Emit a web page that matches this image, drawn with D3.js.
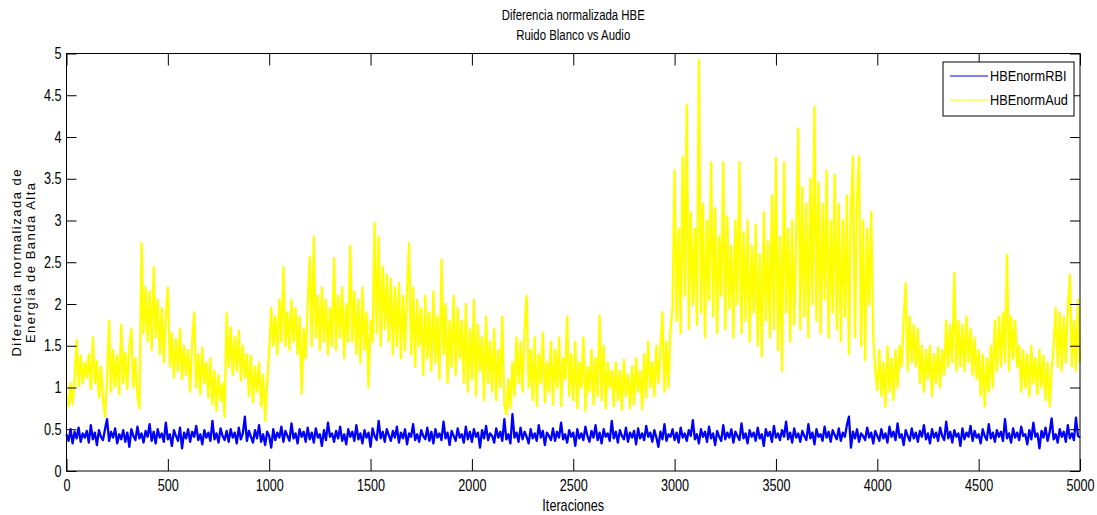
<!DOCTYPE html>
<html>
<head>
<meta charset="utf-8">
<script src="https://cdn.jsdelivr.net/npm/d3@7"></script>
<style>
  html, body { margin: 0; padding: 0; background: #fff; }
  svg { display: block; }
  text { font-family: "Liberation Sans", Arial, Helvetica, sans-serif; fill: #000; }
</style>
</head>
<body>
<svg id="chart" width="1097" height="515"></svg>
<script>
// ==================
// Data (one value every 10 iterations)
// ==================
const STEP = 10;

const hbeNormRBI = [
  0.44,0.36,0.50,0.33,0.47,0.39,0.52,0.35,0.45,0.40,0.48,0.34,0.55,0.38,0.46,0.31,0.49,0.41,0.37,0.50,
  0.62,0.36,0.47,0.40,0.51,0.33,0.44,0.38,0.49,0.35,0.46,0.29,0.50,0.42,0.37,0.53,0.39,0.45,0.34,0.48,
  0.41,0.56,0.36,0.47,0.33,0.50,0.40,0.45,0.35,0.58,0.38,0.44,0.30,0.49,0.42,0.36,0.52,0.27,0.46,0.39,
  0.50,0.35,0.47,0.41,0.54,0.37,0.44,0.32,0.49,0.40,0.46,0.36,0.60,0.38,0.45,0.34,0.51,0.42,0.37,0.48,
  0.35,0.50,0.40,0.46,0.33,0.52,0.38,0.45,0.65,0.36,0.48,0.41,0.34,0.49,0.39,0.55,0.35,0.44,0.31,0.47,
  0.42,0.28,0.50,0.37,0.46,0.40,0.53,0.35,0.48,0.42,0.36,0.57,0.39,0.45,0.33,0.50,0.41,0.47,0.35,0.52,
  0.38,0.46,0.34,0.51,0.40,0.44,0.30,0.49,0.37,0.58,0.41,0.45,0.35,0.48,0.39,0.53,0.36,0.44,0.32,0.50,
  0.41,0.47,0.36,0.55,0.38,0.45,0.33,0.49,0.40,0.46,0.29,0.51,0.42,0.37,0.60,0.39,0.47,0.35,0.50,0.43,
  0.36,0.48,0.40,0.53,0.34,0.46,0.39,0.50,0.32,0.45,0.41,0.56,0.37,0.44,0.35,0.49,0.42,0.38,0.52,0.36,
  0.47,0.33,0.50,0.40,0.45,0.37,0.59,0.39,0.46,0.31,0.48,0.42,0.36,0.51,0.40,0.44,0.34,0.53,0.38,0.47,
  0.35,0.50,0.41,0.46,0.28,0.49,0.39,0.54,0.37,0.45,0.42,0.34,0.51,0.40,0.47,0.36,0.62,0.38,0.44,0.33,
  0.68,0.40,0.46,0.35,0.52,0.38,0.47,0.41,0.33,0.50,0.39,0.45,0.36,0.55,0.40,0.48,0.31,0.46,0.42,0.37,
  0.51,0.36,0.47,0.40,0.58,0.38,0.44,0.34,0.49,0.41,0.46,0.30,0.50,0.39,0.45,0.37,0.53,0.42,0.35,0.48,
  0.40,0.55,0.37,0.46,0.33,0.50,0.41,0.45,0.36,0.60,0.39,0.47,0.34,0.49,0.42,0.38,0.52,0.35,0.46,0.40,
  0.48,0.32,0.51,0.39,0.45,0.37,0.54,0.41,0.46,0.35,0.49,0.40,0.29,0.47,0.38,0.56,0.36,0.44,0.41,0.50,
  0.37,0.46,0.34,0.52,0.40,0.45,0.36,0.49,0.42,0.61,0.38,0.44,0.33,0.50,0.41,0.47,0.35,0.53,0.39,0.45,
  0.31,0.48,0.41,0.36,0.55,0.38,0.46,0.40,0.50,0.34,0.47,0.42,0.37,0.57,0.39,0.45,0.33,0.49,0.41,0.46,
  0.36,0.52,0.39,0.44,0.30,0.50,0.42,0.47,0.35,0.54,0.40,0.45,0.37,0.49,0.41,0.59,0.38,0.46,0.34,0.51,
  0.40,0.45,0.35,0.48,0.42,0.37,0.56,0.39,0.46,0.32,0.50,0.41,0.44,0.36,0.53,0.40,0.47,0.35,0.49,0.43,
  0.38,0.51,0.36,0.46,0.41,0.55,0.65,0.28,0.47,0.39,0.50,0.35,0.45,0.42,0.37,0.52,0.40,0.46,0.33,0.48,
  0.42,0.36,0.50,0.39,0.45,0.34,0.53,0.41,0.47,0.37,0.57,0.40,0.44,0.31,0.49,0.42,0.36,0.51,0.39,0.46,
  0.35,0.48,0.41,0.55,0.38,0.45,0.33,0.50,0.40,0.46,0.36,0.52,0.42,0.37,0.59,0.39,0.47,0.34,0.49,0.41,
  0.45,0.30,0.51,0.38,0.46,0.41,0.54,0.36,0.48,0.40,0.44,0.33,0.50,0.42,0.37,0.56,0.39,0.46,0.35,0.49,
  0.41,0.47,0.36,0.62,0.39,0.45,0.34,0.51,0.40,0.46,0.37,0.53,0.42,0.44,0.32,0.49,0.38,0.58,0.41,0.45,
  0.27,0.48,0.40,0.52,0.36,0.46,0.63,0.38,0.44,0.34,0.50,0.41,0.47,0.35,0.55,0.39,0.45,0.37,0.64,0.42,
  0.40
];

const hbeNormAud = [
  0.92,0.78,1.05,0.80,1.10,1.57,1.02,1.38,1.05,1.30,
  1.12,1.40,0.98,1.60,1.05,1.32,0.88,1.25,0.85,0.65,
  1.10,1.80,0.95,1.45,1.02,1.38,0.92,1.75,1.05,1.42,
  0.98,1.48,1.70,1.00,1.35,0.90,0.75,2.73,1.65,2.20,
  1.55,2.15,1.45,2.44,1.60,2.05,1.40,1.95,1.30,1.85,
  2.20,1.25,1.65,1.12,1.58,1.20,1.70,1.10,1.50,1.15,
  1.45,0.95,1.55,1.90,1.00,1.40,0.92,1.48,1.05,1.30,
  0.88,1.35,0.80,1.20,0.72,1.15,0.85,1.05,0.65,1.89,
  1.25,1.72,1.15,1.60,1.20,1.68,1.08,1.50,1.12,1.40,
  0.90,1.38,0.82,1.25,0.95,1.30,0.78,1.15,0.60,1.05,
  1.45,1.95,1.50,1.85,1.40,2.05,1.55,2.44,1.50,1.90,
  1.45,2.05,1.55,1.95,1.40,1.85,0.93,1.70,1.35,2.00,
  2.56,1.50,2.80,1.60,2.10,1.45,2.20,1.55,2.05,1.40,
  1.95,1.50,2.55,1.45,2.10,1.60,2.20,1.35,2.00,1.55,
  2.70,1.55,2.15,1.40,2.05,1.30,2.20,1.45,1.90,1.00,
  1.80,1.55,2.97,1.65,2.80,1.50,2.45,1.70,2.35,1.55,
  2.30,1.40,2.20,1.50,2.25,1.35,2.10,1.45,2.15,2.73,
  1.40,2.20,1.25,2.05,1.50,1.95,1.15,2.10,1.35,1.90,
  1.20,2.15,1.30,1.85,1.10,2.53,1.40,2.00,1.05,1.80,
  1.25,2.10,1.15,1.95,1.35,1.80,1.05,2.00,0.95,1.70,
  1.10,2.05,0.90,1.75,1.20,1.60,0.85,1.85,1.05,1.55,
  0.95,1.70,0.85,1.45,1.00,1.85,0.80,0.68,1.10,0.75,
  1.30,0.90,1.60,1.05,1.55,0.95,1.70,2.10,1.00,1.45,
  0.85,1.60,0.78,1.40,1.05,1.65,0.82,1.30,0.95,1.55,
  0.80,1.45,1.00,1.60,0.78,1.35,1.10,1.85,0.90,1.40,
  0.85,1.55,0.75,1.30,1.00,1.60,0.72,1.25,0.95,1.45,
  0.80,1.35,0.90,1.86,0.85,1.50,0.75,1.30,1.00,1.20,
  0.78,1.30,0.85,1.20,0.73,1.33,0.90,1.15,0.75,1.25,
  0.80,1.35,0.95,1.20,0.74,1.40,0.88,1.55,1.00,1.30,
  0.90,1.50,1.05,1.45,1.90,0.95,1.55,1.00,1.70,1.97,
  3.60,1.80,2.90,1.65,3.76,2.10,4.38,1.70,3.10,2.00,
  2.90,1.75,4.92,1.90,3.20,1.60,3.00,2.05,3.70,1.85,
  3.15,1.65,2.80,2.10,3.70,1.70,3.05,1.95,2.70,1.60,
  3.00,2.00,3.70,1.65,2.85,1.80,3.00,1.55,2.70,1.90,
  2.95,1.50,2.60,1.37,3.10,1.80,2.75,1.60,3.30,1.70,
  3.75,1.45,2.80,1.20,3.70,1.90,2.90,1.55,3.00,1.75,
  2.85,4.10,1.70,3.40,1.85,3.20,1.60,3.50,2.00,4.36,
  1.80,3.45,1.65,3.20,2.05,3.60,1.60,3.00,1.90,3.55,
  1.70,3.20,1.55,3.00,1.85,3.30,1.40,3.10,3.77,1.60,
  3.25,3.77,1.50,3.00,1.33,2.90,2.00,3.10,1.60,1.20,
  0.97,1.45,0.90,1.30,0.77,1.49,0.95,1.35,0.85,1.45,
  1.00,1.50,1.25,1.80,2.25,1.20,1.85,1.30,1.75,1.25,
  1.70,1.05,1.50,0.95,1.45,1.10,1.50,0.90,1.40,1.05,
  1.48,1.00,1.45,1.15,1.80,1.25,1.75,1.30,2.37,1.20,
  1.80,1.25,1.75,1.20,1.85,1.30,1.70,1.15,1.60,1.10,
  1.45,0.90,1.40,0.77,1.35,0.95,1.50,1.00,1.80,1.20,
  1.85,1.25,1.90,1.30,2.59,1.20,1.85,1.35,1.80,1.25,
  1.50,0.95,1.45,1.00,1.40,0.90,1.50,1.05,1.35,0.92,
  1.45,1.00,1.38,0.85,1.30,0.77,1.20,1.50,1.95,1.25,
  1.90,1.20,1.85,1.30,1.95,2.35,1.25,1.80,1.20,2.05,
  1.30
];

const xTicks = [0, 500, 1000, 1500, 2000, 2500, 3000, 3500, 4000, 4500, 5000];
const yTicks = [0, 0.5, 1, 1.5, 2, 2.5, 3, 3.5, 4, 4.5, 5];
const seriesNames = ['HBEnormRBI', 'HBEnormAud'];
const seriesColors = ['#0000ff', '#ffff00'];
const titleLines = ['Diferencia normalizada HBE', 'Ruido Blanco vs Audio'];
const yLabelLines = ['Diferencia normalizada de', 'Energía de Banda Alta'];
const xLabel = 'Iteraciones';

// ==================
// Layout
// ==================
const PLOT_LEFT = 66.5;
const PLOT_RIGHT = 1080;
const PLOT_TOP = 53.5;
const PLOT_BOTTOM = 471;
const X_TICK_LEN = 12;
const Y_TICK_LEN = 10;
const NARROW = 0.79; // the picture uses a condensed Helvetica

const svg = d3.select('#chart');

const xScale = d3.scaleLinear().domain([0, 5000]).range([PLOT_LEFT, PLOT_RIGHT]);
const yScale = d3.scaleLinear().domain([0, 5]).range([PLOT_BOTTOM, PLOT_TOP]);

const toPoints = (values) => values.map((v, i) => ({ it: i * STEP, v: v }));

const line = d3.line()
  .x(d => xScale(d.it))
  .y(d => yScale(d.v));

// squeeze a text horizontally around its own anchor
const condense = (sel, k) => sel.each(function () {
  const t = d3.select(this);
  const x = +t.attr('x') || 0;
  const y = +t.attr('y') || 0;
  t.attr('x', 0).attr('y', 0).attr('transform', `translate(${x},${y}) scale(${k},1)`);
});

// series, blue first so the yellow one sits on top
const seriesData = [hbeNormRBI, hbeNormAud];
svg.append('g')
  .selectAll('path')
  .data(seriesData)
  .join('path')
  .attr('d', d => line(toPoints(d)))
  .attr('fill', 'none')
  .attr('stroke', (d, i) => seriesColors[i])
  .attr('stroke-width', 2.3)
  .attr('stroke-linejoin', 'round');

// ==================
// Axes (MATLAB style box with inward ticks)
// ==================
const xAxisBottom = d3.axisBottom(xScale).tickValues(xTicks).tickSize(-X_TICK_LEN).tickPadding(9).tickFormat(d3.format('d'));
const xAxisTop = d3.axisTop(xScale).tickValues(xTicks).tickSize(-X_TICK_LEN).tickFormat('');
const yAxisLeft = d3.axisLeft(yScale).tickValues(yTicks).tickSize(-Y_TICK_LEN).tickPadding(5).tickFormat(d3.format('~g'));
const yAxisRight = d3.axisRight(yScale).tickValues(yTicks).tickSize(-Y_TICK_LEN).tickFormat('');

const styleAxis = (g) => {
  g.select('.domain').remove();
  g.selectAll('.tick line').attr('stroke', '#000').attr('stroke-width', 1);
  g.selectAll('.tick text').attr('font-size', 16).attr('fill', '#000')
    .attr('font-family', '"Liberation Sans", Arial, sans-serif')
    .call(condense, NARROW);
};

svg.append('g').attr('transform', `translate(0,${PLOT_BOTTOM})`).call(xAxisBottom).call(styleAxis);
svg.append('g').attr('transform', `translate(0,${PLOT_TOP})`).call(xAxisTop).call(styleAxis);
svg.append('g').attr('transform', `translate(${PLOT_LEFT},0)`).call(yAxisLeft).call(styleAxis);
svg.append('g').attr('transform', `translate(${PLOT_RIGHT},0)`).call(yAxisRight).call(styleAxis);

svg.append('rect')
  .attr('x', PLOT_LEFT)
  .attr('y', PLOT_TOP)
  .attr('width', PLOT_RIGHT - PLOT_LEFT)
  .attr('height', PLOT_BOTTOM - PLOT_TOP)
  .attr('fill', 'none')
  .attr('stroke', '#000')
  .attr('stroke-width', 1);

// ==================
// Titles and labels
// ==================
const titleX = (PLOT_LEFT + PLOT_RIGHT) / 2;
svg.append('g')
  .selectAll('text')
  .data(titleLines)
  .join('text')
  .attr('x', titleX)
  .attr('y', (d, i) => 20 + i * 19.5)
  .attr('text-anchor', 'middle')
  .attr('font-size', 15)
  .text(d => d)
  .call(condense, 0.76);

svg.append('text')
  .attr('x', titleX)
  .attr('y', 511)
  .attr('text-anchor', 'middle')
  .attr('font-size', 16)
  .text(xLabel)
  .call(condense, NARROW);

const yLabelCenter = (PLOT_TOP + PLOT_BOTTOM) / 2;
svg.append('text')
  .attr('transform', `translate(21,${yLabelCenter}) rotate(-90)`)
  .attr('text-anchor', 'middle')
  .attr('font-size', 13)
  .attr('letter-spacing', 1.5)
  .selectAll('tspan')
  .data(yLabelLines)
  .join('tspan')
  .attr('x', 0)
  .attr('dy', (d, i) => i === 0 ? 0 : 14)
  .text(d => d);

// ==================
// Legend
// ==================
const legend = svg.append('g').attr('transform', 'translate(943,62)');
legend.append('rect')
  .attr('width', 131)
  .attr('height', 54)
  .attr('fill', '#fff')
  .attr('stroke', '#000')
  .attr('stroke-width', 1);

const legendItems = legend.selectAll('g.item')
  .data(seriesNames)
  .join('g')
  .attr('class', 'item')
  .attr('transform', (d, i) => `translate(0,${14 + i * 24})`);

legendItems.append('line')
  .attr('x1', 7)
  .attr('x2', 45)
  .attr('stroke', (d, i) => seriesColors[i])
  .attr('stroke-width', 1);

legendItems.append('text')
  .attr('x', 47)
  .attr('dy', '0.35em')
  .attr('font-size', 15)
  .text(d => d)
  .call(condense, 0.85);
</script>
</body>
</html>
